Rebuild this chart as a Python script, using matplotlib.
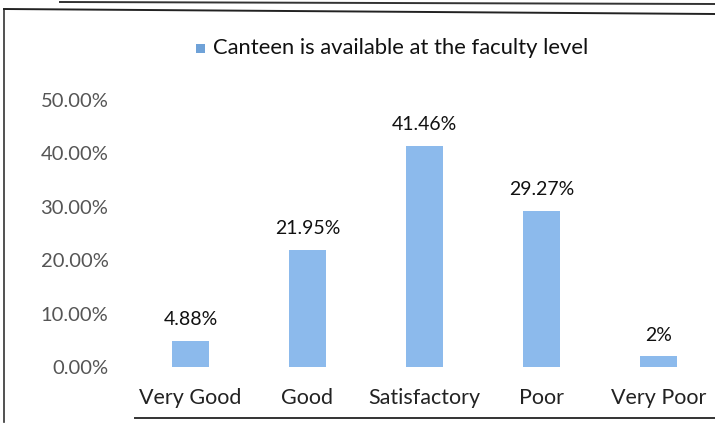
import matplotlib
matplotlib.use("Agg")
import matplotlib.pyplot as plt
from matplotlib.lines import Line2D
from matplotlib.patches import Rectangle

categories = ["Very Good", "Good", "Satisfactory", "Poor", "Very Poor"]
values = [4.88, 21.95, 41.46, 29.27, 2.0]
value_labels = ["4.88%", "21.95%", "41.46%", "29.27%", "2%"]
yticks = [0, 10, 20, 30, 40, 50]
ytick_labels = ["0.00%", "10.00%", "20.00%", "30.00%", "40.00%", "50.00%"]
legend_label = "Canteen is available at the faculty level"

W, H = 715, 428
fig = plt.figure(figsize=(W / 100, H / 100), dpi=100)
fig.patch.set_facecolor("white")

font = ["Lato", "DejaVu Sans"]
bar_color = "#8cbaec"

ax = fig.add_axes([132 / W, 61 / H, 585 / W, 267 / H])
x = list(range(len(categories)))
ax.bar(x, values, width=0.31, color=bar_color, edgecolor="none")
ax.set_xlim(-0.5, 4.5)
ax.set_ylim(0, 50)
for s in ax.spines.values():
    s.set_visible(False)
ax.set_yticks(yticks)
ax.set_yticklabels(ytick_labels, family=font, fontsize=14.5, color="#555555")
ax.set_xticks(x)
ax.set_xticklabels(categories, family=font, fontsize=15.5, color="#222222")
ax.tick_params(axis="both", length=0)
ax.tick_params(axis="y", pad=17)
ax.tick_params(axis="x", pad=15)
for xi, v, lab in zip(x, values, value_labels):
    ax.annotate(lab, (xi, v), xytext=(0, 9), textcoords="offset points",
                ha="center", va="bottom", family=font, fontsize=14, color="#111111")

# legend at the top
fig.patches.append(Rectangle((196 / W, 1 - 53 / H), 9 / W, 9 / H,
                             transform=fig.transFigure, facecolor="#6fa2d8",
                             edgecolor="none"))
fig.text(213 / W, 1 - 48 / H, legend_label, family=font, fontsize=15.8,
         color="#111111", ha="left", va="center")

# scanned frame lines
fig.add_artist(Line2D([4 / W, 4 / W], [1 - 10 / H, 1 - 422 / H], color="#333333", lw=1.2))
fig.add_artist(Line2D([4 / W, 1], [1 - 9 / H, 1 - 14 / H], color="#222222", lw=1.4))
fig.add_artist(Line2D([60 / W, 1], [1 - 2 / H, 1 - 4 / H], color="#333333", lw=1.4))
fig.add_artist(Line2D([135 / W, 1], [1 - 418 / H, 1 - 418 / H], color="#333333", lw=1.4))

fig.savefig("out.png", dpi=100, facecolor="white")
